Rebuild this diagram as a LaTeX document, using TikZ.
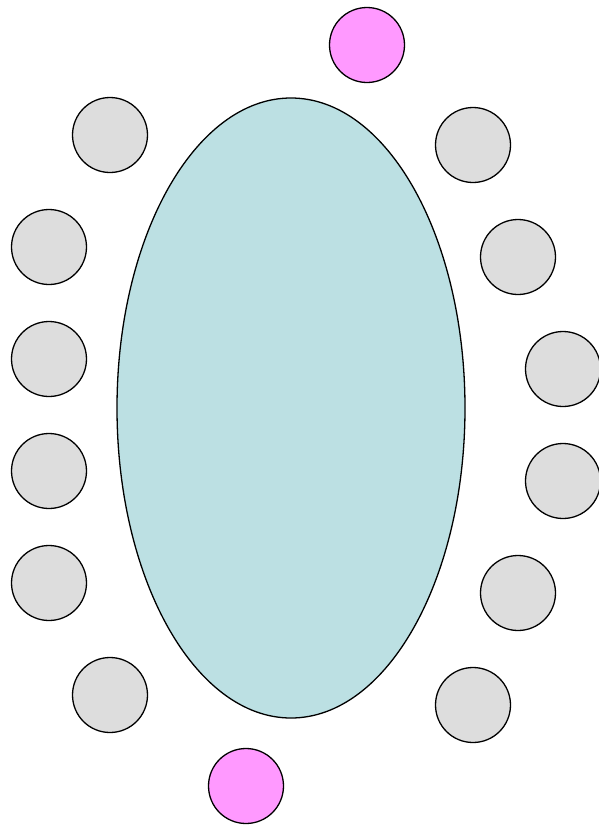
\documentclass[tikz,border=0pt]{standalone}
\usetikzlibrary{shapes.geometric}
\begin{document}
\begin{tikzpicture}[x=1pt,y=-1pt,line width=1.3pt,
chaise/.style={circle,draw,fill=gris,minimum size=75pt,inner sep=0pt},
hote/.style={circle,draw,fill=rose,minimum size=75pt,inner sep=0pt},
table/.style={ellipse,draw,fill=bleu,minimum width=348pt,minimum height=620pt,inner sep=0pt}]
\definecolor{gris}{RGB}{221,221,221}
\definecolor{rose}{RGB}{255,153,255}
\definecolor{bleu}{RGB}{188,224,227}
\useasboundingbox (0,0) rectangle (598,825);
\node[table] (table) at (291,408) {};
\node[hote] (hautHote) at (367,45) {};
\node[hote] (basHote) at (246,786) {};
% cote gauche
\node[chaise] (g1) at (110,135) {};
\node[chaise] (g2) at (49,247) {};
\node[chaise] (g3) at (49,359) {};
\node[chaise] (g4) at (49,471) {};
\node[chaise] (g5) at (49,583) {};
\node[chaise] (g6) at (110,695) {};
% cote droit
\node[chaise] (d1) at (473,145) {};
\node[chaise] (d2) at (518,257) {};
\node[chaise] (d3) at (563,369) {};
\node[chaise] (d4) at (563,481) {};
\node[chaise] (d5) at (518,593) {};
\node[chaise] (d6) at (473,705) {};
\end{tikzpicture}
\end{document}
